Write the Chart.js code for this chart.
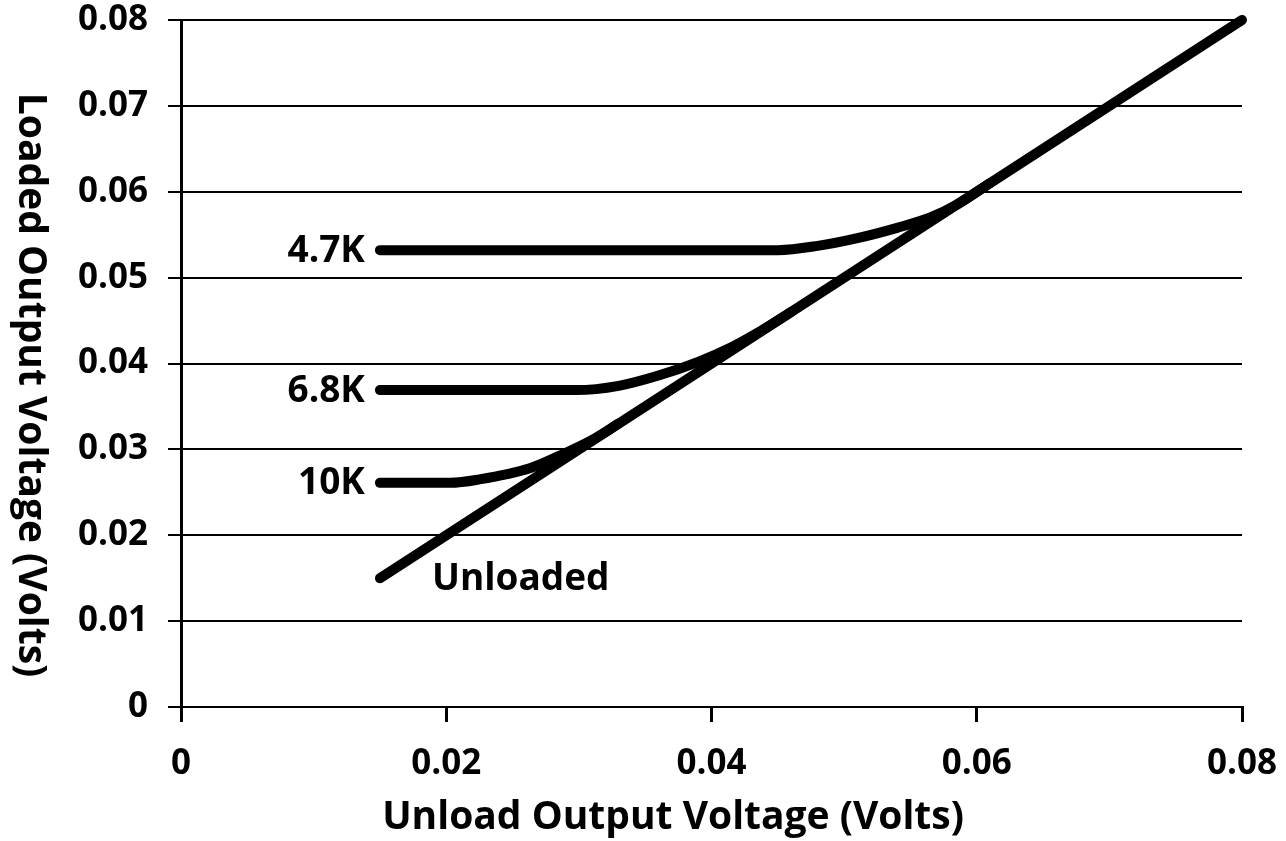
<!DOCTYPE html>
<html><head><meta charset="utf-8">
<script src="https://cdn.jsdelivr.net/npm/chart.js@4/dist/chart.umd.min.js"></script>
<style>html,body{margin:0;padding:0;background:#fff;overflow:hidden}</style>
</head><body>
<canvas id="c" width="1286" height="841" style="width:1286px;height:841px;display:block"></canvas>
<script>
const xTicks = [0, 0.02, 0.04, 0.06, 0.08];
const yTicks = [0, 0.01, 0.02, 0.03, 0.04, 0.05, 0.06, 0.07, 0.08];
const xTitle = 'Unload Output Voltage (Volts)';
const yTitle = 'Loaded Output Voltage (Volts)';

const seriesNames = ['Unloaded', '4.7K', '6.8K', '10K'];
const unloadedX = [0.015, 0.08];
const unloadedY = [0.015, 0.08];
const k47X = [0.015, 0.045, 0.048, 0.051, 0.054, 0.0565, 0.0585, 0.061];
const k47Y = [0.0532, 0.0532, 0.0537, 0.0546, 0.0558, 0.0570, 0.0585, 0.061];
const k68X = [0.015, 0.0298, 0.033, 0.036, 0.039, 0.0415, 0.0435, 0.046];
const k68Y = [0.0369, 0.0369, 0.0374, 0.0386, 0.0402, 0.0419, 0.0436, 0.046];
const k10X = [0.015, 0.0203, 0.0225, 0.0263, 0.0286, 0.031, 0.033];
const k10Y = [0.0261, 0.0261, 0.0265, 0.0278, 0.0293, 0.0311, 0.033];

const FONT = '"Open Sans", "DejaVu Sans", sans-serif';
const pts = (xs, ys) => xs.map((x, i) => ({x: x, y: ys[i]}));

const lineStyle = {
  borderColor: '#000', borderWidth: 10, pointRadius: 0, pointHoverRadius: 0,
  borderCapStyle: 'round', borderJoinStyle: 'round', fill: false,
  cubicInterpolationMode: 'monotone', clip: false
};

const labelPlugin = {
  id: 'seriesLabels',
  afterDatasetsDraw(chart) {
    const ctx = chart.ctx;
    const xs = chart.scales.x, ys = chart.scales.y;
    ctx.save();
    ctx.fillStyle = '#000';
    ctx.font = 'bold 37px ' + FONT;
    ctx.textBaseline = 'middle';
    chart.data.datasets.forEach((ds, i) => {
      const p = ds.data[0];
      const px = xs.getPixelForValue(p.x), py = ys.getPixelForValue(p.y);
      if (i === 0) {
        ctx.textAlign = 'left';
        ctx.fillText(ds.label, px + 52, py + 1);
      } else {
        ctx.textAlign = 'right';
        ctx.fillText(ds.label, px - 15, py + 1);
      }
    });
    // axis titles
    ctx.font = 'bold 39px ' + FONT;
    ctx.textAlign = 'center';
    ctx.fillText(xTitle, 673, 818);
    ctx.translate(30, 385);
    ctx.rotate(Math.PI / 2);
    ctx.fillText(yTitle, 0, 0);
    ctx.restore();
  }
};

new Chart(document.getElementById('c'), {
  type: 'line',
  data: {
    datasets: [
      Object.assign({label: seriesNames[0], data: pts(unloadedX, unloadedY)}, lineStyle, {cubicInterpolationMode: 'default', tension: 0}),
      Object.assign({label: seriesNames[1], data: pts(k47X, k47Y)}, lineStyle),
      Object.assign({label: seriesNames[2], data: pts(k68X, k68Y)}, lineStyle),
      Object.assign({label: seriesNames[3], data: pts(k10X, k10Y)}, lineStyle)
    ]
  },
  options: {
    responsive: false,
    animation: false,
    devicePixelRatio: 1,
    layout: {padding: {left: 0, top: 20, right: 44, bottom: 0}},
    plugins: {legend: {display: false}, tooltip: {enabled: false}, title: {display: false}},
    scales: {
      x: {
        type: 'linear', min: 0, max: 0.08,
        afterFit(s) { s.height = 134; s.paddingLeft = 0; s.paddingRight = 0; },
        afterBuildTicks(s) { s.ticks = xTicks.map(v => ({value: v})); },
        ticks: {
          color: '#000', padding: 21,
          font: {family: FONT, size: 35, weight: 'bold'},
          callback: v => v === 0 ? '0' : v.toFixed(2)
        },
        grid: {drawOnChartArea: false, drawTicks: true, tickLength: 15, color: '#000', lineWidth: 3},
        border: {display: true, color: '#000', width: 2}
      },
      y: {
        type: 'linear', min: 0, max: 0.08,
        afterFit(s) { s.width = 181; s.paddingTop = 0; s.paddingBottom = 0; },
        afterBuildTicks(s) { s.ticks = yTicks.map(v => ({value: v})); },
        ticks: {
          color: '#000', padding: 20,
          font: {family: FONT, size: 35, weight: 'bold'},
          callback: v => v === 0 ? '0' : v.toFixed(2)
        },
        grid: {color: '#000', lineWidth: 2, tickLength: 13, drawTicks: true},
        border: {display: true, color: '#000', width: 3}
      }
    }
  },
  plugins: [labelPlugin]
});
</script>
</body></html>
